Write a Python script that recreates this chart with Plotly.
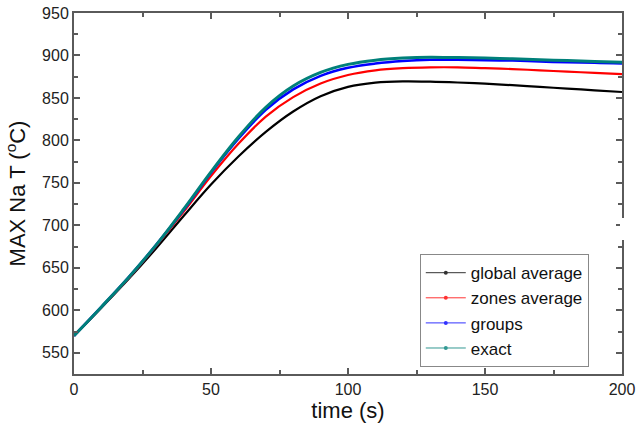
import plotly.graph_objects as go

time_s = [0, 10, 20, 30, 40, 50, 60, 70, 80, 90, 100, 110, 120, 130, 140, 150, 160, 170, 180, 190, 200]

global_average = [570, 603, 637, 673, 711, 748, 781, 810, 834, 852, 863, 868, 869.5, 869.2, 868.2, 866.8, 865, 863, 861, 859, 857]
zones_average = [570, 603.5, 638, 676, 716, 758, 796, 828, 851, 867, 877, 882.5, 885, 886, 886, 885, 884, 882.5, 881, 879.5, 878]
groups = [570, 604, 639, 677, 718, 762, 802, 836, 860, 876, 885.5, 890.5, 893.5, 895, 895, 894.5, 894, 893, 892, 891.5, 890.5]
exact = [570, 604, 639, 677, 719, 763, 804, 839, 864, 880, 889.5, 894.5, 897, 898, 897.5, 897, 896, 895, 894, 893, 892]

series = [
    ("global average", global_average, "#000000", 2.2),
    ("zones average", zones_average, "#ff0000", 2.2),
    ("groups", groups, "#0000ff", 2.6),
    ("exact", exact, "#00807a", 3.0),
]

x_ticks = [0, 50, 100, 150, 200]
y_ticks = [550, 600, 650, 700, 750, 800, 850, 900, 950]

fig = go.Figure()
for name, vals, color, w in series:
    fig.add_trace(go.Scatter(x=time_s, y=vals, mode="lines", name=name,
                             line=dict(color=color, width=w, shape="spline", smoothing=1.0),
                             showlegend=False))
for name, vals, color, w in series:
    fig.add_trace(go.Scatter(x=[None], y=[None], mode="lines+markers", name=name,
                             line=dict(color=color, width=1),
                             marker=dict(color=color, size=4),
                             opacity=0.8,
                             showlegend=True))

axis_common = dict(
    showline=True, linecolor="#5a5a5a", linewidth=2, mirror="ticks",
    ticks="inside", ticklen=6, tickwidth=1.5, tickcolor="#5a5a5a",
    showgrid=False, zeroline=False, automargin=False, ticklabeloverflow="allow",
    tickfont=dict(family="Arial, Liberation Sans", size=16, color="#222222"),
)

fig.update_xaxes(range=[0, 200], tickvals=x_ticks,
                 minor=dict(dtick=25, tick0=0, ticks="inside", ticklen=4, tickcolor="#5a5a5a"),
                 title=dict(text="time (s)", font=dict(family="Arial, Liberation Sans", size=22, color="#111111"),
                            standoff=5),
                 **axis_common)
fig.update_yaxes(range=[525, 950], tickvals=y_ticks,
                 minor=dict(dtick=25, tick0=525, ticks="inside", ticklen=4, tickcolor="#5a5a5a"),
                 title=dict(text="MAX Na T (<sup>o</sup>C)", font=dict(family="Arial, Liberation Sans", size=22, color="#111111"),
                            standoff=10),
                 **axis_common)

fig.update_layout(
    width=636, height=434,
    margin=dict(l=74, r=14, t=13, b=60),
    paper_bgcolor="white", plot_bgcolor="white",
    font=dict(family="Arial, Liberation Sans"),
    legend=dict(x=0.631, y=0.332, xanchor="left", yanchor="top",
                bgcolor="white", bordercolor="#888888", borderwidth=1,
                font=dict(family="Arial, Liberation Sans", size=17, color="#111111"),
                itemwidth=40, tracegroupgap=0),
    shapes=[dict(type="line", xref="paper", yref="paper", x0=1.0, x1=1.0,
                 y0=(374 - 240) / 361, y1=(374 - 218) / 361,
                 line=dict(color="white", width=4))],
)

fig.write_html("out.html", config={"displayModeBar": False},
               post_script="document.body.style.margin='0';")
